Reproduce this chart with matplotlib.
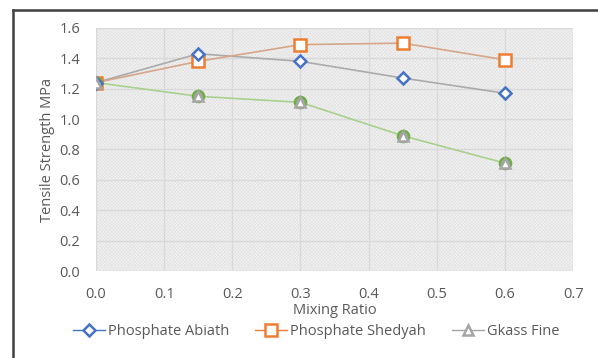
import matplotlib
matplotlib.use("Agg")
import matplotlib.pyplot as plt
from matplotlib.lines import Line2D
from matplotlib.patches import Rectangle

plt.rcParams['font.family'] = ['Open Sans', 'DejaVu Sans']
plt.rcParams['hatch.linewidth'] = 0.5

mixing_ratio = [0.0, 0.15, 0.30, 0.45, 0.60]
abiath = [1.24, 1.43, 1.38, 1.27, 1.17]
shedyah = [1.24, 1.38, 1.49, 1.50, 1.39]
glass_fine = [1.24, 1.15, 1.11, 0.89, 0.71]
series_names = ["Phosphate Abiath", "Phosphate Shedyah", "Gkass Fine"]

text_color = '#595959'

fig = plt.figure(figsize=(5.98, 3.58), dpi=100)
ax = fig.add_axes([0.1605, 0.243, 0.798, 0.679])
ax.set_facecolor('#f3f3f3')
# fine textured plot-area fill
ax.add_patch(Rectangle((0, 0), 1, 1, transform=ax.transAxes, facecolor='#f3f3f3',
                       edgecolor='#e3e3e3', lw=0, hatch='xxxxxxxxxx', zorder=0))

# connecting lines
ax.plot(mixing_ratio, abiath, color='#ababab', lw=1.2, zorder=3)
ax.plot(mixing_ratio, shedyah, color='#d6a58a', lw=1.2, zorder=3)
ax.plot(mixing_ratio, glass_fine, color='#a9d18e', lw=1.2, zorder=3)

# markers
ax.plot(mixing_ratio, abiath, ls='none', marker='D', ms=6.5, mfc='white',
        mec='#4472c4', mew=1.8, zorder=5)
ax.plot(mixing_ratio, shedyah, ls='none', marker='s', ms=9, mfc='white',
        mec='#ed7d31', mew=1.8, zorder=4)
ax.plot(mixing_ratio, glass_fine, ls='none', marker='o', ms=8, mfc='#a5a5a5',
        mec='#70ad47', mew=1.8, zorder=4)
ax.plot(mixing_ratio, glass_fine, ls='none', marker='^', ms=7.5, mfc='white',
        mec='#a5a5a5', mew=1.8, zorder=5)

ax.set_xlim(0, 0.7)
ax.set_ylim(0, 1.6)
ax.set_xticks([i / 10 for i in range(8)])
ax.set_yticks([i / 5 for i in range(9)])
ax.xaxis.set_major_formatter(matplotlib.ticker.FormatStrFormatter('%.1f'))
ax.yaxis.set_major_formatter(matplotlib.ticker.FormatStrFormatter('%.1f'))
ax.grid(True, color='#d9d9d9', lw=1.0, zorder=1)
for s in ax.spines.values():
    s.set_visible(False)
ax.tick_params(length=0, labelsize=10.5, labelcolor=text_color)
ax.tick_params(axis='x', pad=11.5)
ax.tick_params(axis='y', pad=11.5)

ax.set_xlabel("Mixing Ratio", fontsize=10.5, color=text_color, labelpad=1)
ax.set_ylabel("Tensile Strength MPa", fontsize=10.5, color=text_color, labelpad=3)

handles = [
    Line2D([], [], color='#4472c4', lw=1, marker='D', ms=6, mfc='white', mec='#4472c4', mew=1.8),
    Line2D([], [], color='#ed7d31', lw=1, marker='s', ms=8.5, mfc='white', mec='#ed7d31', mew=1.8),
    Line2D([], [], color='#a5a5a5', lw=1, marker='^', ms=7.5, mfc='white', mec='#a5a5a5', mew=1.8),
]
fig.legend(handles, series_names, loc='center', bbox_to_anchor=(0.529, 0.073),
           ncol=3, frameon=False, fontsize=10.5, labelcolor=text_color,
           handlelength=2.2, columnspacing=1.8, handletextpad=0.2)

# outer chart frame
fig.add_artist(Line2D([13 / 598, 13 / 598], [0, 1 - 10 / 358], color='#404040',
                      lw=1.8, transform=fig.transFigure))
fig.add_artist(Line2D([13 / 598, 1], [1 - 10 / 358, 1 - 10 / 358], color='#404040',
                      lw=1.8, transform=fig.transFigure))

fig.savefig("out.png", dpi=100)
